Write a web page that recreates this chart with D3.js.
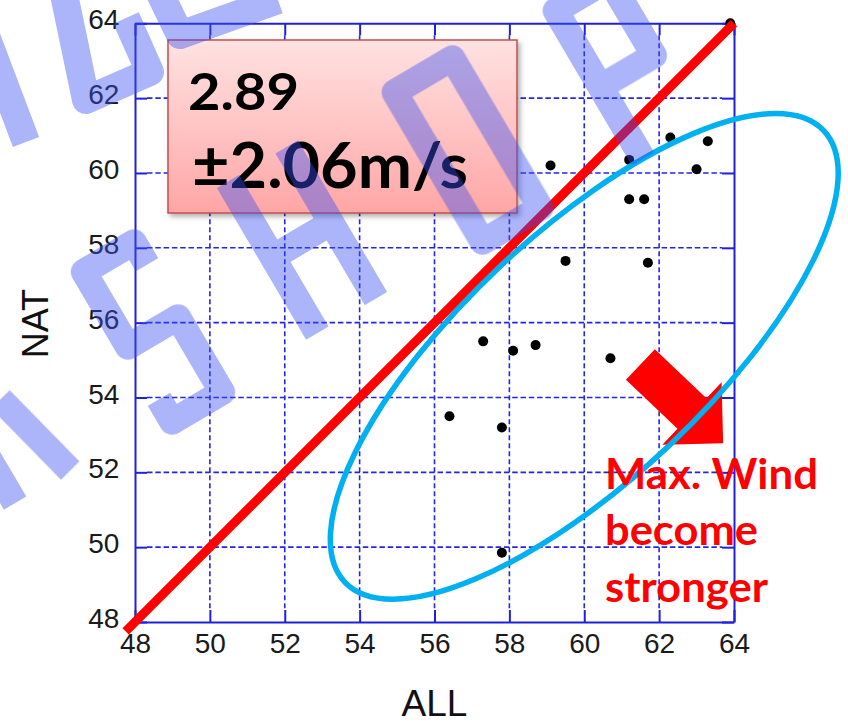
<!DOCTYPE html>
<html><head><meta charset="utf-8">
<script src="https://cdn.jsdelivr.net/npm/d3@7"></script>
<style>html,body{margin:0;padding:0;background:#fff;}svg{display:block}</style>
</head><body>
<svg id="chart" width="848" height="724"></svg>
<script>
// ---- data ----
const ALL = [56.4, 57.3, 57.8, 57.8, 58.1, 58.7, 59.1, 59.5, 60.7, 61.2, 61.2, 61.6, 61.7, 62.3, 63.0, 63.3, 63.9];
const NAT = [53.5, 55.5, 53.2, 49.85, 55.25, 55.4, 60.2, 57.65, 55.05, 60.35, 59.3, 59.3, 57.6, 60.95, 60.1, 60.85, 64.0];
const xTicks = [48, 50, 52, 54, 56, 58, 60, 62, 64];
const yTicks = [48, 50, 52, 54, 56, 58, 60, 62, 64];
const xTitle = "ALL";
const yTitle = "NAT";
const boxLines = ["2.89", "±2.06m/s"];
const noteLines = ["Max. Wind", "become", "stronger"];
const refLine = [[47.75, 47.75], [64, 64]];
const ellipseSpec = {cx: 60.0, cy: 55.1, rx: 8.79, ry: 3.29, angle: -43.3};
const arrowSpec = {from: [61.5, 54.88], to: [63.71, 52.78]};
const watermarkWord = ["K", "S", "H", "O", "P"];

// ---- layout ----
const W = 848, H = 724;
const L = 135, R = 734, T = 23.3, B = 622;
const svg = d3.select("#chart");
const x = d3.scaleLinear().domain([48, 64]).range([L, R]);
const y = d3.scaleLinear().domain([48, 64]).range([B, T]);
const k = x(1) - x(0);
const AX = "#2020dc", GRID = "#2626e2";

const defs = svg.append("defs");
const grad = defs.append("linearGradient").attr("id", "boxgrad").attr("x1", 0).attr("y1", 0).attr("x2", 0).attr("y2", 1);
grad.append("stop").attr("offset", "0%").attr("stop-color", "#ffe2e2");
grad.append("stop").attr("offset", "100%").attr("stop-color", "#ffa6a6");
const sh = defs.append("filter").attr("id", "shadow").attr("x", "-10%").attr("y", "-10%").attr("width", "130%").attr("height", "140%");
sh.append("feDropShadow").attr("dx", 2.5).attr("dy", 3).attr("stdDeviation", 2.5).attr("flood-color", "#000").attr("flood-opacity", 0.3);

// grid
const grid = svg.append("g");
grid.selectAll("line.gx").data(xTicks.slice(1, -1)).join("line")
  .attr("x1", d => x(d)).attr("x2", d => x(d)).attr("y1", y(64) + 12).attr("y2", y(48) - 12)
  .attr("stroke", GRID).attr("stroke-width", 1.6).attr("stroke-dasharray", "5,3");
grid.selectAll("line.gy").data(yTicks.slice(1, -1)).join("line")
  .attr("y1", d => y(d)).attr("y2", d => y(d)).attr("x1", x(48) + 12).attr("x2", x(64) - 12)
  .attr("stroke", GRID).attr("stroke-width", 1.6).attr("stroke-dasharray", "5.5,2.8");

// axes
function styleAxis(g) {
  g.select(".domain").attr("stroke", AX).attr("stroke-width", 2);
  g.selectAll(".tick line").attr("stroke", AX).attr("stroke-width", 2);
  g.selectAll(".tick text").attr("fill", "#1a1a1a").attr("font-family", "'Liberation Sans', Arial, sans-serif").attr("font-size", 28);
}
const gB = svg.append("g").attr("transform", `translate(0,${B})`)
  .call(d3.axisBottom(x).tickValues(xTicks).tickSize(-12).tickSizeOuter(0).tickPadding(10.8).tickFormat(d3.format("d")));
styleAxis(gB);
const gL = svg.append("g").attr("transform", `translate(${L},0)`)
  .call(d3.axisLeft(y).tickValues(yTicks).tickSize(-12).tickSizeOuter(0).tickPadding(15.7).tickFormat(d3.format("d")));
styleAxis(gL);
gL.selectAll(".tick text").attr("dy", "0.2em");
const gT = svg.append("g").attr("transform", `translate(0,${T})`)
  .call(d3.axisTop(x).tickValues(xTicks).tickSize(-12).tickSizeOuter(0).tickFormat(""));
styleAxis(gT);
const gR = svg.append("g").attr("transform", `translate(${R},0)`)
  .call(d3.axisRight(y).tickValues(yTicks).tickSize(-12).tickSizeOuter(0).tickFormat(""));
styleAxis(gR);

// titles
svg.append("text").attr("x", (L + R) / 2).attr("y", 716).attr("text-anchor", "middle")
  .attr("font-family", "'Liberation Sans', Arial, sans-serif").attr("font-size", 37).attr("fill", "#111").text(xTitle);
svg.append("text").attr("transform", `translate(48,${(T + B) / 2 + 1}) rotate(-90)`).attr("text-anchor", "middle")
  .attr("font-family", "'Liberation Sans', Arial, sans-serif").attr("font-size", 36).attr("fill", "#111").text(yTitle);

// points
svg.append("g").selectAll("circle").data(ALL.map((a, i) => [a, NAT[i]])).join("circle")
  .attr("cx", d => x(d[0])).attr("cy", d => y(d[1])).attr("r", 5).attr("fill", "#000");

// 1:1 line
svg.append("line").attr("x1", x(refLine[0][0])).attr("y1", y(refLine[0][1]))
  .attr("x2", x(refLine[1][0])).attr("y2", y(refLine[1][1]))
  .attr("stroke", "#ff0000").attr("stroke-width", 9);

// arrow
(function () {
  const S = [x(arrowSpec.from[0]), y(arrowSpec.from[1])];
  const Tp = [x(arrowSpec.to[0]), y(arrowSpec.to[1])];
  const dx = Tp[0] - S[0], dy = Tp[1] - S[1], len = Math.hypot(dx, dy);
  const u = [dx / len, dy / len], n = [-u[1], u[0]];
  const hl = 43, sw = 21, hw = 43;
  const Bp = [Tp[0] - u[0] * hl, Tp[1] - u[1] * hl];
  const p = (P, s) => [P[0] + n[0] * s, P[1] + n[1] * s];
  const pts = [p(S, sw), p(Bp, sw), p(Bp, hw), Tp, p(Bp, -hw), p(Bp, -sw), p(S, -sw)];
  svg.append("path").attr("d", d3.line()(pts) + "Z").attr("fill", "#ff0000");
})();

// ellipse
svg.append("ellipse")
  .attr("transform", `translate(${x(ellipseSpec.cx)},${y(ellipseSpec.cy)}) rotate(${ellipseSpec.angle})`)
  .attr("rx", ellipseSpec.rx * k).attr("ry", ellipseSpec.ry * k)
  .attr("fill", "none").attr("stroke", "#00b0f0").attr("stroke-width", 5.5);

// note text
const noteW = [213, 153, 163];
svg.append("g").selectAll("text").data(noteLines).join("text")
  .attr("x", 605).attr("y", (d, i) => 488.7 + i * 56.7)
  .attr("font-family", "Lato, 'Open Sans', sans-serif").attr("font-weight", "bold").attr("font-size", 42)
  .attr("fill", "#ff0000").attr("textLength", (d, i) => noteW[i]).attr("lengthAdjust", "spacingAndGlyphs")
  .text(d => d);

// value box
svg.append("rect").attr("x", 168).attr("y", 40).attr("width", 349).attr("height", 173)
  .attr("fill", "url(#boxgrad)").attr("stroke", "#c0504d").attr("stroke-width", 1.5).attr("filter", "url(#shadow)");
const boxSpec = [{x: 188, y: 110, fs: 52, w: 111}, {x: 192, y: 188, fs: 63, w: 276}];
svg.append("g").selectAll("text").data(boxLines).join("text")
  .attr("x", (d, i) => boxSpec[i].x).attr("y", (d, i) => boxSpec[i].y)
  .attr("font-family", "Lato, 'Open Sans', sans-serif").attr("font-weight", "bold")
  .attr("font-size", (d, i) => boxSpec[i].fs).attr("fill", "#000")
  .attr("textLength", (d, i) => boxSpec[i].w).attr("lengthAdjust", "spacingAndGlyphs")
  .text(d => d);

// watermark
const glyphs = {
  K: [[[-1, -1.2], [-1, 1]], [[-1, 0.15], [1.3, -1.2]], [[0.25, -0.1], [1, 1]]],
  S: [[[1, -0.7], [1, -1], [-1, -1], [-1, 0], [1, 0], [1, 1], [-1, 1], [-1, 0.7]]],
  H: [[[-1, -1], [-1, 1]], [[1, -1], [1, 1]], [[-1, 0], [1, 0]]],
  O: [[[-1, -1], [1, -1], [1, 1], [-1, 1], [-1, -1], [1, -1]]],
  P: [[[-1, 1], [-1, -1], [1, -1], [1, 0.03], [-1, 0.03]]]
};
const wmPos = {K: [-2, 411, 32, 88], S: [153, 332, 29, 87], H: [302, 240, 34, 88], O: [467.5, 150, 33.5, 86.8], P: [626, 69, 31, 86]};
const wm = svg.append("g").attr("opacity", 0.42);
const lineGen = d3.line();
const WMC = "#3a50f0", WMS = 26;
watermarkWord.forEach(ch => {
  const [cx, cy, hw, hh] = wmPos[ch];
  const g = wm.append("g").attr("transform", `translate(${cx},${cy}) rotate(-30.5)`);
  glyphs[ch].forEach(st => {
    g.append("path").attr("d", lineGen(st.map(q => [q[0] * hw, q[1] * hh])))
      .attr("fill", "none").attr("stroke", WMC).attr("stroke-width", WMS)
      .attr("stroke-linejoin", "round").attr("stroke-linecap", "butt");
  });
});
const frags = [
  [[-14, 36], [26, 142]],
  [[60, -25], [86, 100], [150, 72], [126, 18]],
  [[156, -15], [180, 35], [278, 0]]
];
frags.forEach(f => {
  wm.append("path").attr("d", lineGen(f)).attr("fill", "none").attr("stroke", WMC)
    .attr("stroke-width", 28).attr("stroke-linejoin", "round");
});
</script>
</body></html>
